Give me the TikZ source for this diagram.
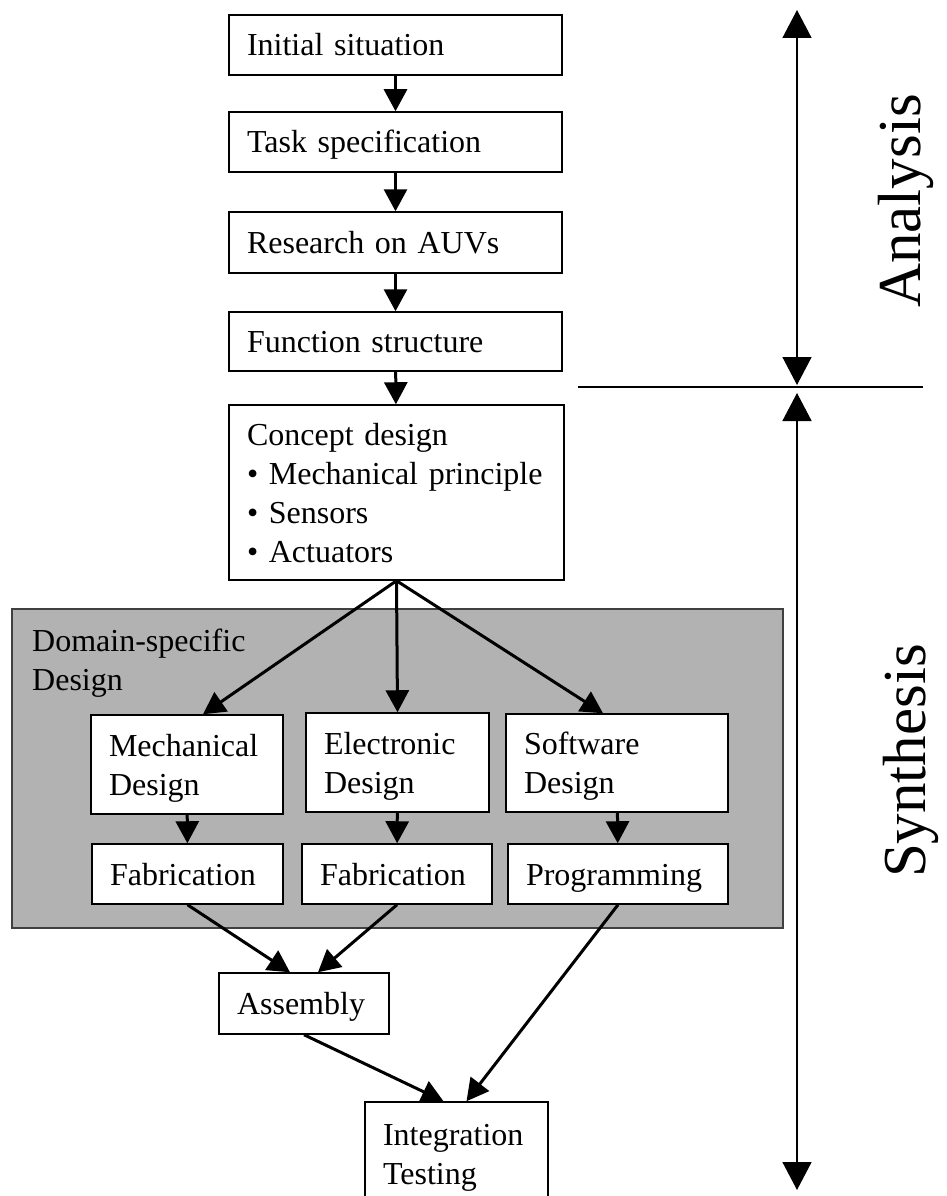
\documentclass[tikz,border=0pt]{standalone}
\usepackage{fontspec}
\setmainfont{Liberation Serif}
\usetikzlibrary{arrows.meta}
\newcommand{\boxstrut}{\rule[-8.5pt]{0pt}{39pt}}
\tikzset{
  stepbox/.style={draw=black, fill=white, line width=1.5pt, align=left, inner xsep=18pt, inner ysep=2pt, font=\fontsize{32}{39}\selectfont, execute at begin node=\boxstrut, execute at end node=\boxstrut},
  flow/.style={line width=3pt, -{Triangle[width=23pt,length=22pt]}},
  phase/.style={line width=1.5pt, {Triangle[width=29pt,length=28pt]}-{Triangle[width=29pt,length=28pt]}},
  phasename/.style={rotate=90, font=\fontsize{61}{61}\selectfont, inner sep=0pt}
}
\begin{document}
\begin{tikzpicture}[x=1pt,y=-1pt]
  \useasboundingbox (0,0) rectangle (946,1196);
  \draw[draw=black!75, fill=black!30, line width=1.5pt] (12,609) rectangle (783,928);
  \node[anchor=north west, align=left, inner sep=0pt, font=\fontsize{32}{38.5}\selectfont] (domain) at (32,629) {Domain-specific\\Design};

  \node[stepbox, text width=297pt, minimum height=60pt] (init) at (395.5,45) {Initial situation};
  \node[stepbox, text width=297pt, minimum height=60pt] (task) at (395.5,142) {Task specification};
  \node[stepbox, text width=297pt, minimum height=61pt] (research) at (395.5,242.5) {Research on AUVs};
  \node[stepbox, text width=297pt, minimum height=59pt] (function) at (395.5,341.5) {Function structure};
  \node[stepbox, text width=299pt, minimum height=175pt] (concept) at (396.5,492.5) {Concept design\\\textbullet{} Mechanical principle\\\textbullet{} Sensors\\\textbullet{} Actuators};

  \node[stepbox, text width=156pt, minimum height=99pt] (mech) at (187,764.5) {Mechanical\\Design};
  \node[stepbox, text width=147pt, minimum height=99pt] (elec) at (397.5,762.5) {Electronic\\Design};
  \node[stepbox, text width=186pt, minimum height=98pt] (soft) at (617,763) {Software\\Design};
  \node[stepbox, text width=155pt, minimum height=60pt] (fabmech) at (187.5,874) {Fabrication};
  \node[stepbox, text width=154pt, minimum height=60pt] (fabelec) at (397,874) {Fabrication};
  \node[stepbox, text width=184pt, minimum height=60pt] (prog) at (618,874) {Programming};
  \node[stepbox, text width=134pt, minimum height=61pt] (assembly) at (304,1003.5) {Assembly};
  \node[stepbox, text width=147pt, minimum height=103pt] (integ) at (456.5,1153.5) {Integration\\Testing};

  \draw[flow] (init) -- (task);
  \draw[flow] (task) -- (research);
  \draw[flow] (research) -- (function);
  \draw[flow] (function) -- (concept);
  \draw[flow] (concept.south) -- ([xshift=16pt]mech.north);
  \draw[flow] (concept.south) -- (elec.north);
  \draw[flow] (concept.south) -- ([xshift=-14pt]soft.north);
  \draw[flow] (mech) -- (fabmech);
  \draw[flow] (elec) -- (fabelec);
  \draw[flow] (soft) -- (prog);
  \draw[flow] (fabmech.south) -- ([xshift=-14pt]assembly.north);
  \draw[flow] (fabelec.south) -- ([xshift=14pt]assembly.north);
  \draw[flow] (prog.south) -- ([xshift=10pt]integ.north);
  \draw[flow] (assembly.south) -- ([xshift=-13pt]integ.north);

  \coordinate (antop) at (797,10);
  \coordinate (anend) at (797,385);
  \coordinate (systop) at (797,393);
  \coordinate (sysend) at (797,1190);
  \coordinate (cutleft) at (578,387);
  \coordinate (cutright) at (923,387);
  \draw[phase] (antop) -- (anend);
  \draw[phase] (systop) -- (sysend);
  \draw[line width=1.5pt] (cutleft) -- (cutright);
  \node[phasename] (analysis) at (906,201) {Analysis};
  \node[phasename] (synthesis) at (911,761) {Synthesis};
\end{tikzpicture}
\end{document}
